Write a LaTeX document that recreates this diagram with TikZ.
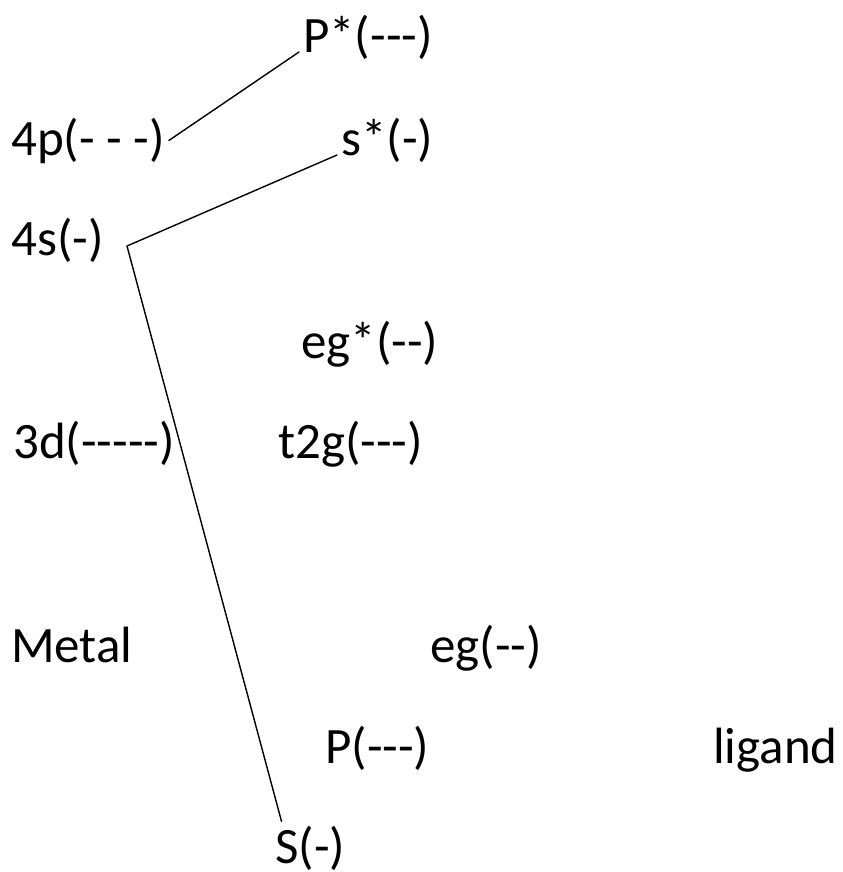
\documentclass[tikz,border=0pt]{standalone}
\usepackage{fontspec}
\setmainfont{Carlito}[Ligatures=TeXOff]

\begin{document}
\begin{tikzpicture}[x=0.01cm,y=-0.01cm,line cap=round,line join=round,
  lvl/.style={anchor=base west,inner sep=1pt,font=\fontsize{14.5pt}{17pt}\selectfont}]
  \useasboundingbox (0,0) rectangle (843,872);
  \node[lvl] (pstar) at (299,52) {P*(---)};
  \node[lvl] (p4) at (7,155) {4p(- - -)};
  \node[lvl] (sstar) at (337,155) {s*(-)};
  \node[lvl] (s4) at (7,255) {4s(-)};
  \node[lvl] (egstar) at (297,358) {eg*(--)};
  \node[lvl] (d3) at (9,458) {3d(-----)};
  \node[lvl] (t2g) at (274,458) {t2g(---)};
  \node[lvl] (metal) at (7,662) {Metal};
  \node[lvl] (eg) at (426,662) {eg(--)};
  \node[lvl] (pbond) at (321,763) {P(---)};
  \node[lvl] (ligand) at (709,763) {ligand};
  \node[lvl] (sbond) at (271,863) {S(-)};
  \coordinate (bend) at (127,246);
  \draw[line width=0.4pt] (p4.east) -- (pstar.base west);
  \draw[line width=0.4pt] (sstar.base west) -- (bend) -- ([xshift=3pt]sbond.north west);
\end{tikzpicture}
\end{document}
